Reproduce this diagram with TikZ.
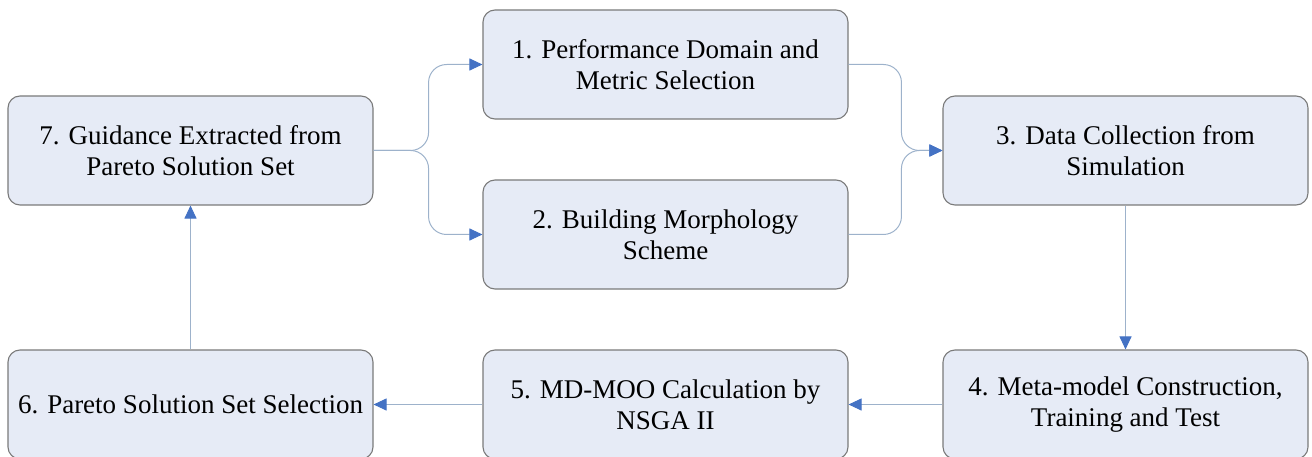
\documentclass[tikz,border=0pt]{standalone}
\usepackage{fontspec}
\setmainfont{Liberation Serif}
\usetikzlibrary{arrows.meta}
\definecolor{boxfill}{HTML}{E6EBF6}
\definecolor{boxline}{HTML}{7A7A7A}
\definecolor{wire}{HTML}{9DB2CB}
\definecolor{tipblue}{HTML}{4472C4}
\tikzset{
  stepbox/.style={draw=boxline, fill=boxfill, line width=1.1pt, rounded corners=12pt,
    minimum width=365pt, minimum height=109pt, align=center, inner sep=2pt,
    font=\fontsize{27}{31}\selectfont},
  conn/.style={draw=wire, line width=1pt,
    -{Triangle[length=13pt,width=12pt,color=tipblue]}},
}
\begin{document}
\begin{tikzpicture}[x=1pt,y=-1pt]
\useasboundingbox (0,0) rectangle (1312,457);
\node[stepbox] (b7) at (190.5,150.5) {7. Guidance Extracted from\\Pareto Solution Set};
\node[stepbox] (b1) at (665.5,64.5) {1. Performance Domain and\\Metric Selection};
\node[stepbox] (b2) at (665.5,234.5) {2. Building Morphology\\Scheme};
\node[stepbox] (b3) at (1125.5,150.5) {3. Data Collection from\\Simulation};
\node[stepbox] (b4) at (1125.5,404.5) {4. Meta-model Construction,\\Training and Test};
\node[stepbox] (b5) at (665.5,404.5) {5. MD-MOO Calculation by\\NSGA II};
\node[stepbox] (b6) at (190.5,404.5) {6. Pareto Solution Set Selection};
% branching from step 7 into steps 1 and 2
\draw[conn, rounded corners=18pt] (b7.east) -- ([xshift=55pt]b7.east) |- (b1.west);
\draw[conn, rounded corners=18pt] (b7.east) -- ([xshift=55pt]b7.east) |- (b2.west);
% steps 1 and 2 merge into step 3
\draw[conn, rounded corners=18pt] (b1.east) -| ([xshift=-41pt]b3.west) -- (b3.west);
\draw[conn, rounded corners=18pt] (b2.east) -| ([xshift=-41pt]b3.west) -- (b3.west);
% main loop
\draw[conn] (b3.south) -- (b4.north);
\draw[conn] (b4.west) -- (b5.east);
\draw[conn] (b5.west) -- (b6.east);
\draw[conn] (b6.north) -- (b7.south);
\end{tikzpicture}
\end{document}
